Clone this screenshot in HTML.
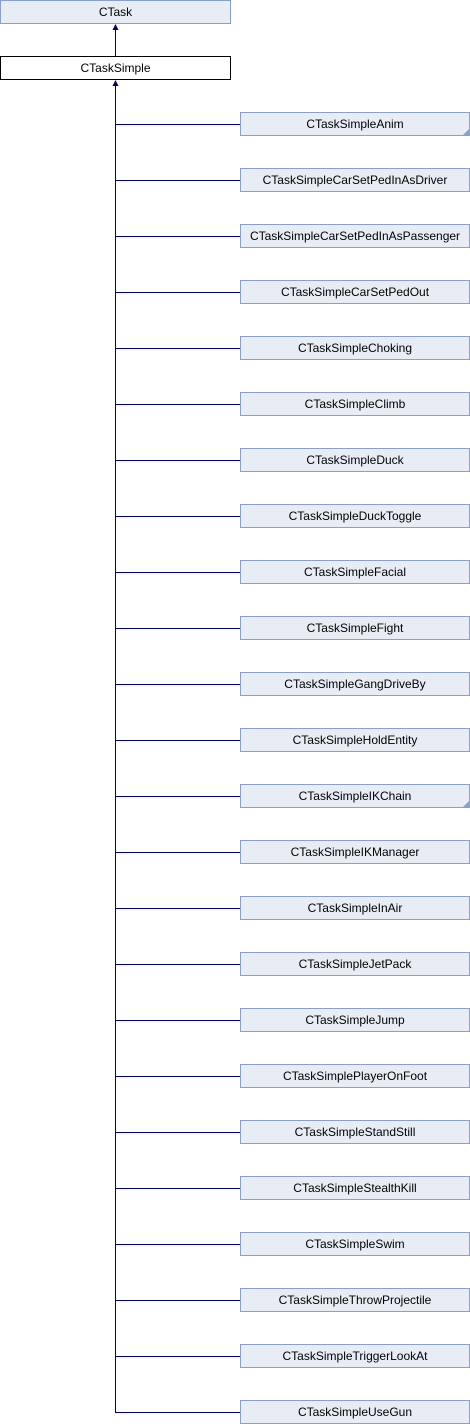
<!DOCTYPE html>
<html><head><meta charset="utf-8"><style>
body{margin:0;width:470px;height:1424px;background:#fff;position:relative;overflow:hidden;font-family:"Liberation Sans",sans-serif;font-size:12px}
.b{position:absolute;box-sizing:border-box;height:24px;border:1px solid #8aa0cc;background:#e8ecf4;text-align:center;line-height:22px;color:#000}
.w{background:#fff;border-color:#000}
svg{position:absolute;left:0;top:0;z-index:1}
</style></head><body>
<svg width="470" height="1424">
<g stroke="#000080" stroke-width="1" fill="none">
<line x1="115.5" y1="28" x2="115.5" y2="56"/>
<line x1="115.5" y1="84" x2="115.5" y2="1412.5"/>
</g>
<g fill="#000080">
<polygon points="115.5,24 112.5,30 118.5,30"/>
<polygon points="115.5,80 112.5,86 118.5,86"/>
</g>
<g id="h" stroke="#000080" stroke-width="1"></g>
<polygon points="469,129 469,135 463,135" fill="#8aa0cc"/>
<polygon points="469,801 469,807 463,807" fill="#8aa0cc"/>
</svg>
<div class="b" style="left:0;top:0;width:231px">CTask</div>
<div class="b w" style="left:0;top:56px;width:231px">CTaskSimple</div>
<div id="c"></div>
<script>
var n=["CTaskSimpleAnim","CTaskSimpleCarSetPedInAsDriver","CTaskSimpleCarSetPedInAsPassenger","CTaskSimpleCarSetPedOut","CTaskSimpleChoking","CTaskSimpleClimb","CTaskSimpleDuck","CTaskSimpleDuckToggle","CTaskSimpleFacial","CTaskSimpleFight","CTaskSimpleGangDriveBy","CTaskSimpleHoldEntity","CTaskSimpleIKChain","CTaskSimpleIKManager","CTaskSimpleInAir","CTaskSimpleJetPack","CTaskSimpleJump","CTaskSimplePlayerOnFoot","CTaskSimpleStandStill","CTaskSimpleStealthKill","CTaskSimpleSwim","CTaskSimpleThrowProjectile","CTaskSimpleTriggerLookAt","CTaskSimpleUseGun"];
var h="",s="";
n.forEach(function(t,i){var y=112+56*i;h+='<div class="b" style="left:240px;top:'+y+'px;width:230px">'+t+'</div>';s+='<line x1="115" y1="'+(y+12.5)+'" x2="240" y2="'+(y+12.5)+'"/>';});
document.getElementById("c").innerHTML=h;
document.getElementById("h").innerHTML=s;
</script>
</body></html>
